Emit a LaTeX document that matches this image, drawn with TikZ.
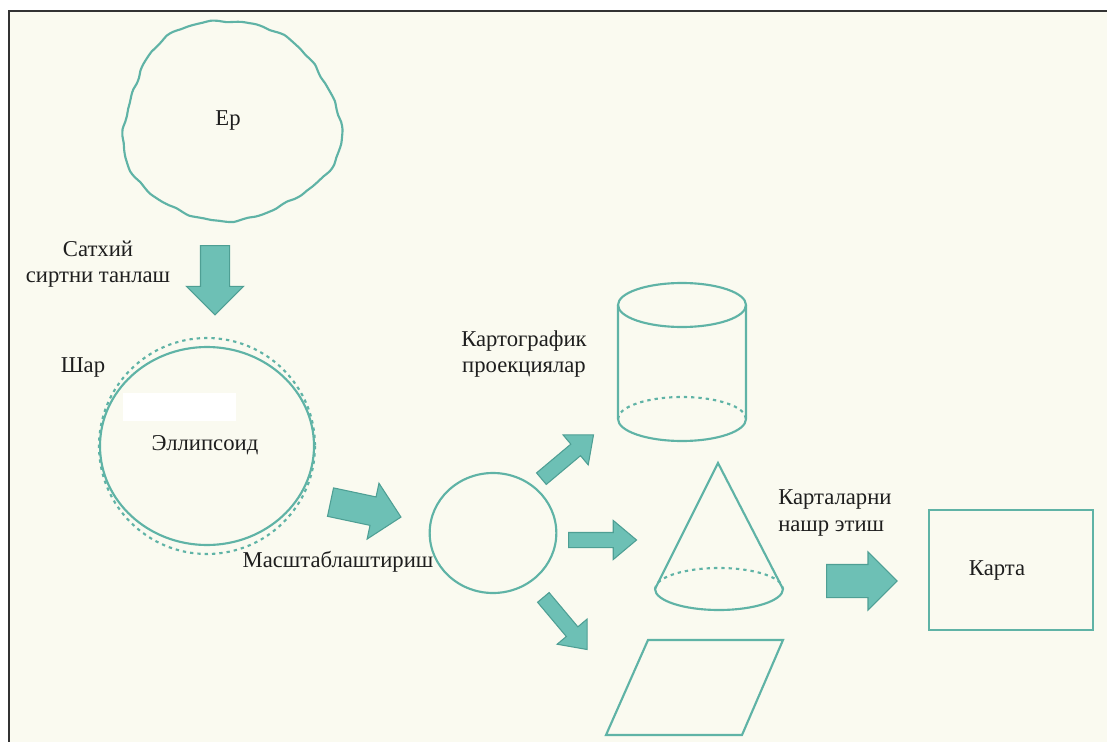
\documentclass[tikz,border=0pt]{standalone}
\usepackage{fontspec}
\setmainfont{Liberation Serif}
\usetikzlibrary{shapes.arrows,shapes.geometric}

\definecolor{paper}{HTML}{FAFAF0}
\definecolor{lineteal}{HTML}{5FB3A6}
\definecolor{arrowfill}{HTML}{6DC0B5}
\definecolor{arrowline}{HTML}{4E9F94}
\definecolor{ink}{HTML}{1E1E1E}

\tikzset{
  outline/.style={draw=lineteal, line width=1.6pt},
  hidden/.style={draw=lineteal, line width=1.6pt, dash pattern=on 2.5pt off 3pt},
  bigarrow/.style={single arrow, draw=arrowline, line width=0.8pt, fill=arrowfill,
    inner xsep=0pt, inner ysep=10.5pt, anchor=tail, minimum height=53pt, minimum width=42pt,
    single arrow head extend=10.5pt},
  smallarrow/.style={bigarrow, minimum height=51pt, minimum width=28.5pt, inner ysep=5.25pt,
    single arrow head extend=9pt, single arrow tip angle=80},
  txt/.style={text=ink, font=\fontsize{17}{20}\selectfont, align=center, inner sep=0pt}
}

\begin{document}
\begin{tikzpicture}[x=0.75pt,y=-0.75pt]
    \useasboundingbox (0,0) rectangle (1107,742);
    \fill[paper] (9,11) rectangle (1107,742);
    \draw[line width=2.2pt, black!80] (1107,11) -- (9,11) -- (9,742);

    \draw[outline] plot[smooth cycle, domain=0:356, samples=90]
      ({230+108*cos(\x)*(1+0.035*sin(3*\x+40)+0.02*sin(5*\x+10)+0.007*sin(17*\x)+0.004*sin(29*\x+60))},
       {122+100*sin(\x)*(1+0.035*sin(3*\x+40)+0.02*sin(5*\x+10)+0.007*sin(17*\x)+0.004*sin(29*\x+60))});
    \node[txt] (earth) at (228,120) {Ер};

    \node[bigarrow, rotate=-90, minimum height=52pt] (choose) at (215,245) {};
    \node[txt] (choosetxt) at (98,264) {Сатхий\\сиртни танлаш};

    \node[txt] (shar) at (83,367) {Шар};
    \draw[hidden] (207,446) circle [radius=108];
    \node[ellipse, draw=lineteal, line width=1.6pt, minimum width=160.5pt, minimum height=148.5pt, inner sep=0pt] (ellipsoid) at (207,446) {};
    \fill[white] (123,393) rectangle (236,421);
    \node[txt] (ellipsoidtxt) at (205,445) {Эллипсоид};

    \node[bigarrow, rotate=-12, minimum height=54pt] (scale) at (330,502) {};
    \node[txt] (scaletxt) at (338,562) {Масштаблаштириш};

    \node[ellipse, draw=lineteal, line width=1.6pt, minimum width=95pt, minimum height=90pt, inner sep=0pt] (globe) at (493,533) {};
    \node[txt] (projtxt) at (524,354) {Картографик\\проекциялар};

    \node[smallarrow, rotate=40] (tocyl) at (541,479) {};
    \node[smallarrow] (tocone) at (568,540) {};
    \node[smallarrow, rotate=-50] (toplane) at (543,597) {};

    \draw[outline] (682,305) ellipse [x radius=64, y radius=22];
    \draw[outline] (618,305) -- (618,419) arc[start angle=180, end angle=0, x radius=64, y radius=22] -- (746,305);
    \draw[hidden] (618,419) arc[start angle=180, end angle=360, x radius=64, y radius=22];

    \draw[outline] (655,589) -- (718,463) -- (783,589) arc[start angle=0, end angle=180, x radius=64, y radius=21];
    \draw[hidden] (655,589) arc[start angle=180, end angle=360, x radius=64, y radius=21];

    \draw[outline] (648,640) -- (783,640) -- (742,735) -- (606,735) -- cycle;

    \node[txt, align=left, anchor=west] (printtxt) at (778,513) {Карталарни\\нашр этиш};
    \node[bigarrow, minimum width=43pt, inner ysep=12pt, single arrow head extend=9.5pt] (print) at (826,581) {};

    \node[draw=lineteal, line width=1.6pt, minimum width=123pt, minimum height=90pt, inner sep=0pt] (map) at (1011,570) {};
    \node[txt] (maptxt) at (997,570) {Карта};
\end{tikzpicture}
\end{document}
